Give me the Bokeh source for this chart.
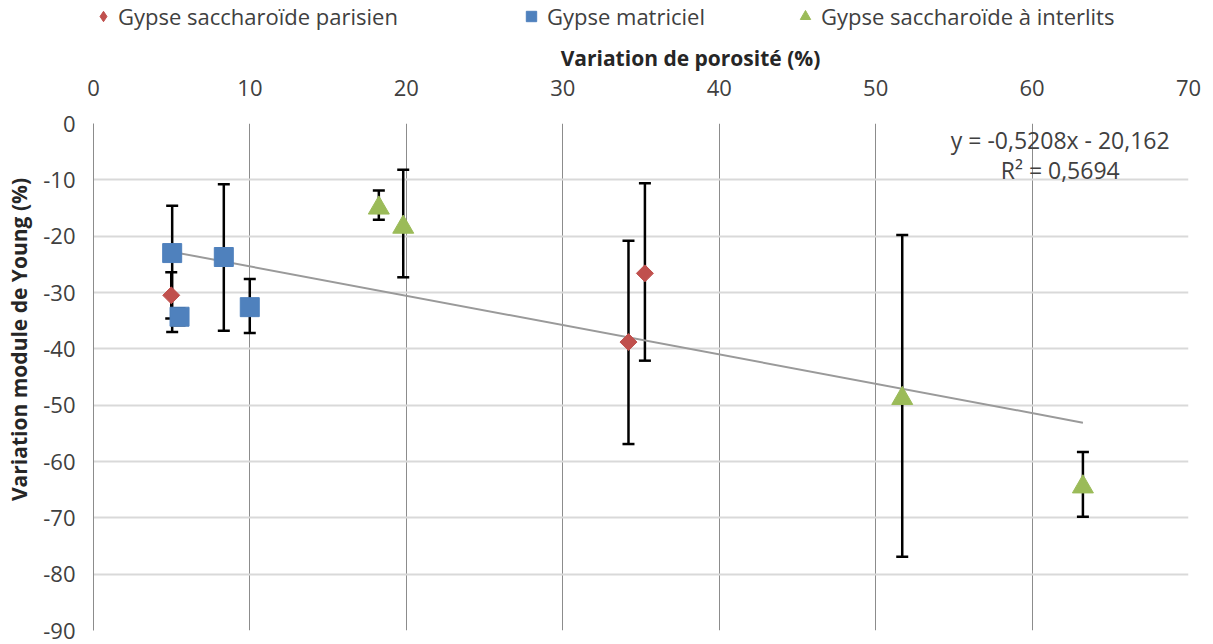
import math
from bokeh.plotting import figure
from bokeh.models import (ColumnDataSource, Whisker, TeeHead, Legend, LegendItem,
                          Label, FixedTicker)
from bokeh.layouts import column, row
from bokeh.embed import file_html
from bokeh.resources import INLINE

# ---- data ----
parisien_x = [4.97, 34.2, 35.25]
parisien_y = [-30.5, -38.8, -26.6]
parisien_lo = [-34.6, -56.9, -42.1]
parisien_hi = [-26.4, -20.8, -10.6]

matriciel_x = [5.03, 5.5, 8.33, 9.99]
matriciel_y = [-23.0, -34.3, -23.7, -32.6]
matriciel_lo = [-37.0, -35.8, -36.8, -37.2]
matriciel_hi = [-14.6, -32.8, -10.8, -27.6]

interlits_x = [18.24, 19.8, 51.7, 63.25]
interlits_y = [-15.0, -18.4, -48.8, -64.5]
interlits_lo = [-17.1, -27.3, -76.9, -69.8]
interlits_hi = [-11.9, -8.2, -19.8, -58.3]

trend_slope = -0.5208
trend_intercept = -20.162
trend_r2 = 0.5694
trend_x = [4.97, 63.25]

x_ticks = [0, 10, 20, 30, 40, 50, 60, 70]
y_ticks = [0, -10, -20, -30, -40, -50, -60, -70, -80, -90]

series_names = ["Gypse saccharoïde parisien", "Gypse matriciel",
                "Gypse saccharoïde à interlits"]
x_title = "Variation de porosité (%)"
y_title = "Variation module de Young (%)"

FONT = "Open Sans"
TXT = "#404040"
RED, BLUE, GREEN = "#C0504D", "#4F81BD", "#9BBB59"

TOP_H = 72
LEFT_W = 36
MAIN_TOP = 51
MAIN_H = MAIN_TOP + 507 + 13

# ---------------- main plot ----------------
p = figure(frame_width=1095, frame_height=507, x_range=(0, 70), y_range=(-90, 0),
           output_backend="svg", toolbar_location=None, x_axis_location="above",
           min_border_left=57, min_border_right=17, min_border_top=MAIN_TOP,
           min_border_bottom=13, background_fill_color="white")
p.outline_line_color = None

p.xgrid.ticker = FixedTicker(ticks=x_ticks)
p.ygrid.ticker = FixedTicker(ticks=y_ticks)
p.xgrid.grid_line_color = "#8c8c8c"
p.xgrid.grid_line_width = 1
p.ygrid.grid_line_color = "#d9d9d9"
p.ygrid.grid_line_width = 2

xa = p.xaxis[0]
xa.ticker = FixedTicker(ticks=x_ticks)
xa.major_label_text_font = FONT
xa.major_label_text_font_size = "22px"
xa.major_label_text_color = TXT
xa.major_label_standoff = 22
xa.axis_line_color = None
xa.major_tick_line_color = None
xa.minor_tick_line_color = None

ya = p.yaxis[0]
ya.ticker = FixedTicker(ticks=y_ticks)
ya.major_label_overrides = {t: str(t) for t in y_ticks}
ya.major_label_text_font = FONT
ya.major_label_text_font_size = "22px"
ya.major_label_text_color = TXT
ya.major_label_standoff = 12
ya.axis_line_color = "#8c8c8c"
ya.axis_line_width = 1
ya.major_tick_line_color = None
ya.minor_tick_line_color = None

trend_y = [trend_slope * v + trend_intercept for v in trend_x]
p.line(trend_x, trend_y, line_color="#9a9a9a", line_width=2)


def add_whiskers(xs, lo, hi):
    src = ColumnDataSource(dict(base=xs, lower=lo, upper=hi))
    w = Whisker(source=src, base="base", lower="lower", upper="upper",
                line_color="black", line_width=2.5,
                upper_head=TeeHead(size=12, line_color="black", line_width=2.5),
                lower_head=TeeHead(size=12, line_color="black", line_width=2.5))
    p.add_layout(w)


add_whiskers(parisien_x, parisien_lo, parisien_hi)
add_whiskers(matriciel_x, matriciel_lo, matriciel_hi)
add_whiskers(interlits_x, interlits_lo, interlits_hi)

p.scatter(parisien_x, parisien_y, marker="square", angle=math.pi / 4, size=12,
          fill_color=RED, line_color=RED)
p.scatter(matriciel_x, matriciel_y, marker="square", size=19,
          fill_color=BLUE, line_color=BLUE)
p.scatter(interlits_x, interlits_y, marker="triangle", size=21,
          fill_color=GREEN, line_color=GREEN)

eq1 = "y = -0,5208x - 20,162"
eq2 = "R² = " + "0,5694"
p.add_layout(Label(x=61.8, y=-3.0, text=eq1, text_align="center", text_baseline="middle",
                   text_font=FONT, text_font_size="23px", text_color=TXT))
p.add_layout(Label(x=61.8, y=-8.3, text=eq2, text_align="center", text_baseline="middle",
                   text_font=FONT, text_font_size="23px", text_color=TXT))

# ---------------- top strip: legend + x title ----------------
W = LEFT_W + 57 + 1095 + 17
pt = figure(width=W, height=TOP_H, x_range=(0, W), y_range=(0, TOP_H),
            x_axis_type=None, y_axis_type=None, output_backend="svg",
            toolbar_location=None, min_border=0)
pt.outline_line_color = None
pt.grid.visible = False

# off-canvas proxies, only used to draw the legend symbols
lr_par = pt.scatter(x=[-500], y=[-500], marker="diamond",
                    fill_color=RED, line_color=RED)
lr_mat = pt.scatter(x=[-500], y=[-500], marker="square", fill_color=BLUE, line_color=BLUE)
lr_int = pt.scatter(x=[-500], y=[-500], marker="triangle", fill_color=GREEN,
                    line_color=GREEN)


def add_legend(label, rend, xpos, glyph, standoff):
    lg = Legend(items=[LegendItem(label=label, renderers=[rend])],
                location=(xpos, 41), orientation="horizontal",
                padding=0, margin=0, spacing=0, border_line_color=None,
                background_fill_alpha=0, glyph_width=glyph, glyph_height=glyph,
                label_standoff=standoff, label_text_font=FONT,
                label_text_font_size="22px", label_text_color=TXT, label_height=26)
    pt.add_layout(lg, "center")


add_legend(series_names[0], lr_par, 90, 26, 2)
add_legend(series_names[1], lr_mat, 518, 26, 3)
add_legend(series_names[2], lr_int, 792, 26, 3)

pt.add_layout(Label(x=690, y=TOP_H - 57, x_units="screen", y_units="screen",
                    text=x_title, text_align="center", text_baseline="middle",
                    text_font=FONT, text_font_size="21px", text_font_style="bold",
                    text_color="#262626"))

# ---------------- left strip: y title ----------------
pl = figure(width=LEFT_W, height=MAIN_H, x_range=(0, LEFT_W), y_range=(0, MAIN_H),
            x_axis_type=None, y_axis_type=None, output_backend="svg",
            toolbar_location=None, min_border=0)
pl.outline_line_color = None
pl.grid.visible = False
pl.add_layout(Label(x=18, y=MAIN_H - (352 - TOP_H), x_units="screen", y_units="screen",
                    text=y_title, angle=math.pi / 2, text_align="center",
                    text_baseline="middle", text_font=FONT, text_font_size="21px",
                    text_font_style="bold", text_color="#262626"))

layout = column(pt, row(pl, p, spacing=0), spacing=0)

open("out.html", "w").write(file_html(layout, INLINE))
